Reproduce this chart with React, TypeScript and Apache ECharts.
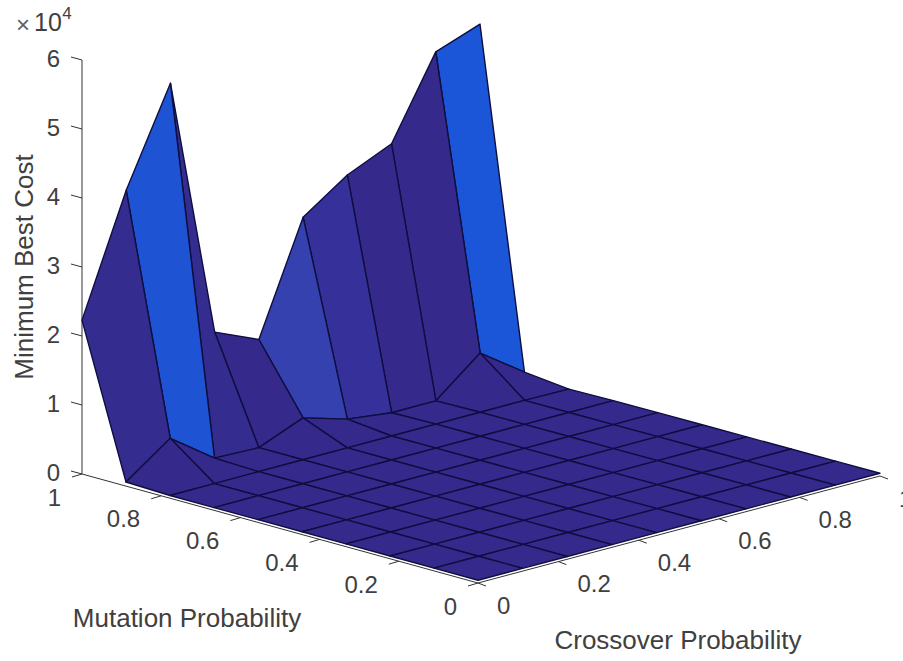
import React, { useEffect, useRef } from "react";
import * as echarts from "echarts";

// Node positions along each floor axis (linspace(0,1,10))
const crossoverNodes = [0, 1 / 9, 2 / 9, 3 / 9, 4 / 9, 5 / 9, 6 / 9, 7 / 9, 8 / 9, 1];
const mutationNodes = [0, 1 / 9, 2 / 9, 3 / 9, 4 / 9, 5 / 9, 6 / 9, 7 / 9, 8 / 9, 1];

// Minimum Best Cost (x 10^4), one list per mutation node
const costM0 = [0.04, 0.04, 0.04, 0.04, 0.04, 0.04, 0.04, 0.04, 0.04, 0.04];
const costM1 = [0.04, 0.04, 0.04, 0.04, 0.04, 0.04, 0.04, 0.04, 0.04, 0.04];
const costM2 = [0.04, 0.04, 0.04, 0.04, 0.04, 0.04, 0.04, 0.04, 0.04, 0.04];
const costM3 = [0.04, 0.04, 0.04, 0.04, 0.04, 0.04, 0.04, 0.04, 0.04, 0.04];
const costM4 = [0.04, 0.04, 0.04, 0.04, 0.04, 0.04, 0.04, 0.04, 0.04, 0.04];
const costM5 = [0.04, 0.04, 0.04, 0.04, 0.04, 0.04, 0.04, 0.04, 0.04, 0.04];
const costM6 = [0.04, 0.04, 0.04, 0.04, 0.04, 0.04, 0.04, 0.04, 0.04, 0.04];
const costM7 = [0.04, 0.04, 0.04, 0.04, 0.04, 0.04, 0.04, 0.04, 0.04, 0.03];
const costM8 = [0.06, 0.52, 0.06, 0.04, 0.3, 0.11, 0.03, 0.03, 0.55, 0.1];
const costM9 = [2.23, 3.94, 5.32, 1.54, 1.26, 2.86, 3.3, 3.58, 4.74, 4.97];
const costRows = [costM0, costM1, costM2, costM3, costM4, costM5, costM6, costM7, costM8, costM9];

const zTicks = [0, 1, 2, 3, 4, 5, 6];
const mutationTicks = [0, 0.2, 0.4, 0.6, 0.8, 1];
const crossoverTicks = [0, 0.2, 0.4, 0.6, 0.8, 1];

const colorValues = [0.04, 0.11, 0.3, 0.55];
const colorStops = ["#352a8c", "#36319a", "#3541ae", "#1b56d8"];

const EDGE = "#0e0e40";
const AXIS = "#333333";
const TEXT = "#404040";
const FONT = "Liberation Sans, Arial, sans-serif";

// View of the axes box (with a slight perspective term), in the hidden pixel-scaled cartesian axes
const project = (c: number, m: number, z: number): [number, number] => [
  478 + 402 * c - 396 * m - 4 * c * m,
  583 - 107 * c - 109 * m - 69 * z,
];

const faceColor = (v: number): string => {
  if (v <= colorValues[0]) return colorStops[0];
  for (let k = 1; k < colorValues.length; k++) {
    if (v <= colorValues[k]) {
      const t = (v - colorValues[k - 1]) / (colorValues[k] - colorValues[k - 1]);
      return echarts.color.lerp(t, [colorStops[k - 1], colorStops[k]]) as string;
    }
  }
  return colorStops[colorStops.length - 1];
};

// faces ordered far to near
const faces: number[][] = [];
for (let s = 16; s >= 0; s--) {
  for (let i = 0; i < 9; i++) {
    const j = s - i;
    if (j >= 0 && j < 9) faces.push([i, j]);
  }
}

const axisSegments: number[][][] = [
  [[0, 1, 0], [0, 1, 6]],
  [[0, 1, 0], [0, 0, 0]],
  [[0, 0, 0], [1, 0, 0]],
];

export default function App() {
  const ref = useRef<HTMLDivElement>(null);
  useEffect(() => {
    document.body.style.margin = "0";
    document.body.style.background = "#ffffff";
    const chart = echarts.init(ref.current!, null, { renderer: "svg" });

    const tickItems: any[] = [];
    zTicks.forEach((z) => tickItems.push({ value: [0, 0], from: project(0, 1, z), dx: -11, dy: -3, label: String(z), lx: -22, ly: -2, align: "right" }));
    mutationTicks.forEach((m) => tickItems.push({ value: [0, 0], from: project(0, m, 0), dx: -10, dy: 3, label: String(m), lx: -21, ly: 23, align: "right" }));
    crossoverTicks.forEach((c) => tickItems.push({ value: [0, 0], from: project(c, 0, 0), dx: 8, dy: 3, label: String(c), lx: 19, ly: 22, align: "left" }));

    chart.setOption({
      animation: false,
      grid: { left: 0, top: 0, width: 903, height: 661 },
      xAxis: { type: "value", min: 0, max: 903, show: false },
      yAxis: { type: "value", min: 0, max: 661, inverse: true, show: false },
      graphic: [
        { type: "text", x: 24, y: 267, rotation: Math.PI / 2, style: { text: "Minimum Best Cost", font: `26px ${FONT}`, fill: TEXT, align: "center", verticalAlign: "middle" } },
        { type: "text", x: 187, y: 618, style: { text: "Mutation Probability", font: `26px ${FONT}`, fill: TEXT, align: "center", verticalAlign: "middle" } },
        { type: "text", x: 678, y: 640, style: { text: "Crossover Probability", font: `26px ${FONT}`, fill: TEXT, align: "center", verticalAlign: "middle" } },
        { type: "text", x: 23, y: 24, style: { text: "×", font: `24px ${FONT}`, fill: "#606060", align: "center", verticalAlign: "middle" } },
        { type: "text", x: 48, y: 22, style: { text: "10", font: `25px ${FONT}`, fill: TEXT, align: "center", verticalAlign: "middle" } },
        { type: "text", x: 67, y: 13, style: { text: "4", font: `17px ${FONT}`, fill: TEXT, align: "center", verticalAlign: "middle" } },
      ],
      series: [
        {
          type: "custom",
          name: "axes",
          coordinateSystem: "cartesian2d",
          silent: true,
          z: 1,
          clip: false,
          data: axisSegments.map((_, k) => [k, 0]),
          renderItem: (params: any, api: any) => {
            const seg = axisSegments[params.dataIndex];
            const a = api.coord(project(seg[0][0], seg[0][1], seg[0][2]));
            const b = api.coord(project(seg[1][0], seg[1][1], seg[1][2]));
            return { type: "line", shape: { x1: a[0], y1: a[1], x2: b[0], y2: b[1] }, style: { stroke: AXIS, lineWidth: 1 } };
          },
        },
        {
          type: "custom",
          name: "ticks",
          coordinateSystem: "cartesian2d",
          silent: true,
          z: 1,
          clip: false,
          data: tickItems,
          renderItem: (params: any, api: any) => {
            const t = tickItems[params.dataIndex];
            const a = api.coord(t.from);
            return {
              type: "group",
              children: [
                { type: "line", shape: { x1: a[0], y1: a[1], x2: a[0] + t.dx, y2: a[1] + t.dy }, style: { stroke: AXIS, lineWidth: 1 } },
                { type: "text", x: a[0] + t.lx, y: a[1] + t.ly, style: { text: t.label, font: `24px ${FONT}`, fill: TEXT, align: t.align, verticalAlign: "middle" } },
              ],
            };
          },
        },
        {
          type: "custom",
          name: "Minimum Best Cost",
          coordinateSystem: "cartesian2d",
          silent: true,
          z: 2,
          clip: false,
          data: faces,
          renderItem: (params: any, api: any) => {
            const [i, j] = faces[params.dataIndex];
            const corners = [[i, j], [i + 1, j], [i + 1, j + 1], [i, j + 1]];
            const points = corners.map(([a, b]) => api.coord(project(crossoverNodes[a], mutationNodes[b], costRows[b][a])));
            return {
              type: "polygon",
              shape: { points },
              style: { fill: faceColor(costRows[j][i]), stroke: EDGE, lineWidth: 1.4, lineJoin: "round" },
            };
          },
        },
      ],
    });
    return () => chart.dispose();
  }, []);
  return <div ref={ref} style={{ width: 903, height: 661 }} />;
}
